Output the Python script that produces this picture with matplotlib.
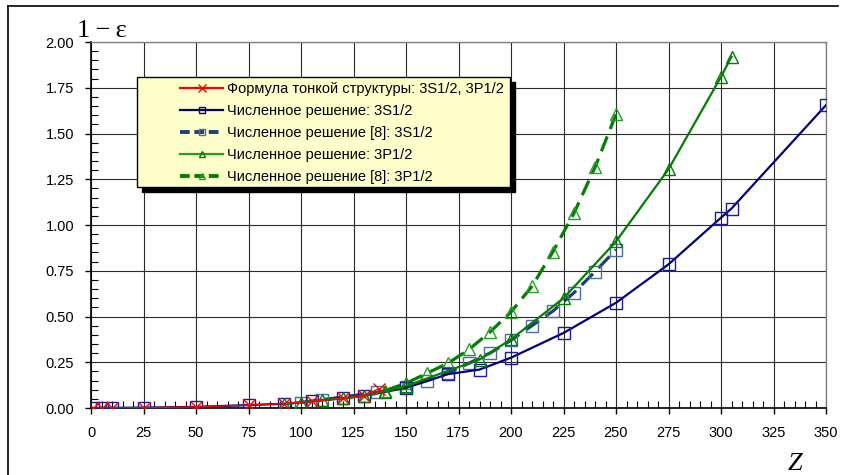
import matplotlib
matplotlib.use("Agg")
import matplotlib.pyplot as plt
from matplotlib.patches import Rectangle
from matplotlib.lines import Line2D
from matplotlib.ticker import MultipleLocator, FormatStrFormatter

# Формула тонкой структуры: 3S1/2, 3P1/2
z_formula = [1, 5, 10, 25, 50, 75, 92, 105, 120, 130, 137]
e_formula = [0.000, 0.000, 0.001, 0.002, 0.006, 0.016, 0.024, 0.036, 0.053, 0.068, 0.105]

# Численное решение: 3S1/2
z_s = [1, 5, 10, 25, 50, 75, 92, 105, 120, 130, 150, 170, 185, 200, 225, 250, 275, 300, 305, 350]
e_s = [0.000, 0.000, 0.001, 0.002, 0.006, 0.016, 0.023, 0.036, 0.053, 0.066, 0.110,
       0.185, 0.210, 0.275, 0.410, 0.575, 0.785, 1.040, 1.090, 1.655]

# Численное решение [8]: 3S1/2
z_s8 = [100, 110, 136, 150, 160, 170, 180, 190, 200, 210, 220, 230, 240, 250]
e_s8 = [0.030, 0.045, 0.085, 0.115, 0.150, 0.190, 0.245, 0.300, 0.370, 0.450, 0.530,
        0.630, 0.745, 0.865]

# Численное решение: 3P1/2
z_p = [92, 100, 110, 120, 130, 140, 150, 185, 200, 225, 250, 275, 300, 305]
e_p = [0.022, 0.030, 0.044, 0.053, 0.066, 0.090, 0.120, 0.265, 0.375, 0.600, 0.910,
       1.305, 1.810, 1.920]

# Численное решение [8]: 3P1/2
z_p8 = [140, 150, 160, 170, 180, 190, 200, 210, 220, 230, 240, 250]
e_p8 = [0.095, 0.135, 0.190, 0.245, 0.320, 0.415, 0.525, 0.665, 0.855, 1.065, 1.315, 1.605]

labels = [
    "Формула тонкой структуры: 3S1/2, 3P1/2",
    "Численное решение: 3S1/2",
    "Численное решение [8]: 3S1/2",
    "Численное решение: 3P1/2",
    "Численное решение [8]: 3P1/2",
]

W, H = 842, 475
plt.rcParams["font.family"] = ["Liberation Sans", "DejaVu Sans"]
fig = plt.figure(figsize=(W / 100, H / 100), dpi=100)


def px(x, y):
    return x / W, 1 - y / H


ax = fig.add_axes([91 / W, 1 - 408 / H, (826 - 91) / W, (408 - 42) / H])

ms = 8.5
l_s8, = ax.plot(z_s8, e_s8, color="#1F3F73", lw=2.3, ls=(0, (5, 2.5)), marker="s", ms=ms,
                mfc="none", mec="#4A6E9E", mew=1.0, zorder=3)
l_p8, = ax.plot(z_p8, e_p8, color="#008000", lw=2.3, ls=(0, (5, 2.5)), marker="^", ms=ms,
                mfc="none", mec="#22A022", mew=1.0, zorder=3)
l_s, = ax.plot(z_s, e_s, color="#000080", lw=1.6, marker="s", ms=ms,
               mfc="none", mec="#1A1A9A", mew=1.0, zorder=4)
l_p, = ax.plot(z_p, e_p, color="#008000", lw=1.6, marker="^", ms=ms,
               mfc="none", mec="#008000", mew=1.0, zorder=4)
l_f, = ax.plot(z_formula, e_formula, color="#FF0000", lw=1.0, marker="x", ms=9,
               mec="#FF0000", mew=1.0, zorder=5)

ax.set_xlim(0, 350)
ax.set_ylim(0, 2.0)
ax.xaxis.set_major_locator(MultipleLocator(25))
ax.xaxis.set_minor_locator(MultipleLocator(5))
ax.yaxis.set_major_locator(MultipleLocator(0.25))
ax.yaxis.set_minor_locator(MultipleLocator(0.05))
ax.yaxis.set_major_formatter(FormatStrFormatter("%.2f"))
ax.tick_params(which="major", direction="out", length=4, width=1, labelsize=10.5, pad=8)
ax.tick_params(which="minor", direction="in", length=5, width=0.8)
ax.tick_params(axis="x", which="major", pad=9)
ax.grid(True, which="major", color="#2a2a2a", lw=0.8)
ax.set_axisbelow(True)
for side in ("top", "right"):
    ax.spines[side].set_color("#808080")
    ax.spines[side].set_linewidth(1.0)
for side in ("left", "bottom"):
    ax.spines[side].set_color("black")
    ax.spines[side].set_linewidth(1.2)

# axis titles
fig.text(*px(77, 37), "1\u2009\u2212\u2009\u03b5", family=["Liberation Serif", "DejaVu Serif"],
         fontsize=19, ha="left", va="baseline")
fig.text(*px(788, 470), "Z", family=["Liberation Serif", "DejaVu Serif"], style="italic",
         fontsize=19, ha="left", va="baseline")

# legend box with black drop shadow
x0, y0, x1, y1 = 137, 77, 510, 187
shadow = Rectangle(px(x0 + 5, y1 + 5), (x1 - x0) / W, (y1 - y0) / H, transform=fig.transFigure,
                   facecolor="black", edgecolor="black", zorder=6)
box = Rectangle(px(x0, y1), (x1 - x0) / W, (y1 - y0) / H, transform=fig.transFigure,
                facecolor="#FFFFCC", edgecolor="black", lw=1.0, zorder=7)
fig.add_artist(shadow)
fig.add_artist(box)

handles = [
    Line2D([], [], color="#FF0000", lw=1.6, marker="x", ms=6, mew=1.0),
    Line2D([], [], color="#000080", lw=1.6, marker="s", ms=5, mfc="none", mew=1.0),
    Line2D([], [], color="#1F3F73", lw=2.8, ls=(0, (2.5, 1.2)), marker="s", ms=5,
           mfc="none", mec="#4A6E9E", mew=1.0),
    Line2D([], [], color="#22A022", lw=1.6, marker="^", ms=5, mfc="none", mec="#008000", mew=1.0),
    Line2D([], [], color="#008000", lw=2.8, ls=(0, (2.5, 1.2)), marker="^", ms=5,
           mfc="none", mec="#22A022", mew=1.0),
]
leg = fig.legend(handles, labels, loc="upper left", bbox_to_anchor=px(180, 82),
                 frameon=False, fontsize=10.5, handlelength=2.95, handletextpad=0.28,
                 labelspacing=0.55, borderpad=0, borderaxespad=0)
leg.set_zorder(8)

# outer frame
fig.add_artist(Line2D([8 / W, 8 / W], [0, 1 - 6 / H], transform=fig.transFigure,
                      color="black", lw=1.2))
fig.add_artist(Line2D([8 / W, 838 / W], [1 - 6 / H, 1 - 6 / H], transform=fig.transFigure,
                      color="black", lw=1.2))

fig.savefig("out.png", dpi=100)
